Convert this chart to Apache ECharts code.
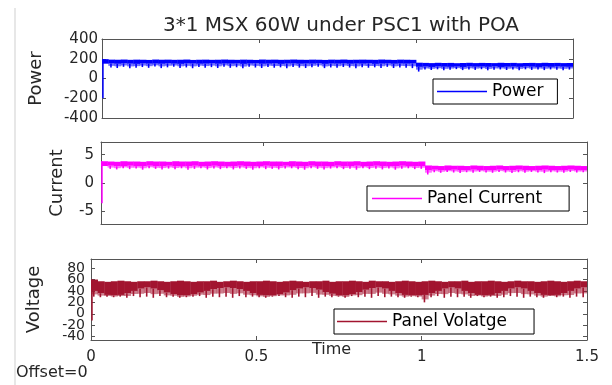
<!DOCTYPE html>
<html>
<head>
<meta charset="utf-8">
<script src="https://cdn.jsdelivr.net/npm/echarts@6/dist/echarts.min.js"></script>
<style>
  html, body { margin: 0; padding: 0; background: #fff; }
  #chart { width: 612px; height: 385px; }
</style>
</head>
<body>
<div id="chart"></div>
<script>
// time grid (s)
const time = [
  0, 0.02, 0.04, 0.06, 0.08, 0.1, 0.12, 0.14, 0.16, 0.18,
  0.2, 0.22, 0.24, 0.26, 0.28, 0.3, 0.32, 0.34, 0.36, 0.38,
  0.4, 0.42, 0.44, 0.46, 0.48, 0.5, 0.52, 0.54, 0.56, 0.58,
  0.6, 0.62, 0.64, 0.66, 0.68, 0.7, 0.72, 0.74, 0.76, 0.78,
  0.8, 0.82, 0.84, 0.86, 0.88, 0.9, 0.92, 0.94, 0.96, 0.98,
  1, 1.02, 1.04, 1.06, 1.08, 1.1, 1.12, 1.14, 1.16, 1.18,
  1.2, 1.22, 1.24, 1.26, 1.28, 1.3, 1.32, 1.34, 1.36, 1.38,
  1.4, 1.42, 1.44, 1.46, 1.48, 1.5
];

// power: top of band, bottom of solid band, bottom of ripple
const powerHi = [
  196, 191, 190, 192, 189, 191, 190, 188, 192, 190,
  191, 189, 190, 192, 188, 190, 191, 189, 190, 192,
  190, 189, 191, 190, 188, 192, 190, 191, 189, 190,
  192, 190, 189, 191, 190, 188, 191, 190, 192, 189,
  190, 191, 190, 189, 192, 190, 188, 191, 190, 189,
  160, 158, 156, 159, 157, 158, 155, 157, 159, 156,
  158, 157, 156, 159, 157, 158, 155, 157, 158, 156,
  159, 157, 158, 156, 157, 158
];
const powerLo = [
  150, 152, 149, 153, 150, 148, 152, 150, 151, 149,
  153, 150, 148, 152, 151, 149, 150, 153, 149, 151,
  150, 152, 148, 151, 153, 149, 150, 152, 148, 151,
  152, 149, 151, 150, 153, 148, 151, 150, 152, 149,
  151, 150, 153, 148, 150, 152, 149, 151, 150, 152,
  118, 120, 117, 121, 119, 118, 120, 117, 121, 119,
  120, 118, 121, 117, 119, 120, 118, 121, 119, 117,
  120, 118, 121, 119, 118, 120
];
const powerDip = [
  150, 112, 106, 118, 104, 110, 116, 108, 121, 105,
  113, 119, 107, 112, 104, 117, 110, 115, 106, 120,
  108, 114, 103, 118, 111, 106, 116, 109, 113, 104,
  117, 110, 106, 114, 119, 105, 112, 108, 116, 111,
  104, 115, 109, 113, 107, 118, 106, 112, 110, 105,
  70, 90, 86, 93, 84, 89, 95, 85, 91, 87,
  94, 83, 89, 92, 86, 90, 84, 93, 87, 91,
  85, 92, 88, 84, 90, 87
];

const currentHi = [
  3.85, 3.8, 3.75, 3.85, 3.8, 3.8, 3.75, 3.85, 3.8, 3.8,
  3.75, 3.85, 3.8, 3.8, 3.85, 3.75, 3.8, 3.85, 3.8, 3.75,
  3.8, 3.85, 3.8, 3.75, 3.8, 3.85, 3.8, 3.8, 3.75, 3.85,
  3.8, 3.75, 3.85, 3.8, 3.8, 3.75, 3.85, 3.8, 3.8, 3.85,
  3.75, 3.8, 3.85, 3.8, 3.75, 3.8, 3.85, 3.8, 3.75, 3.8,
  3.1, 3.05, 3.0, 3.1, 3.05, 3.05, 3.0, 3.1, 3.05, 3.0,
  3.05, 3.1, 3.0, 3.05, 3.1, 3.05, 3.0, 3.05, 3.1, 3.05,
  3.0, 3.05, 3.1, 3.05, 3.0, 3.1
];
const currentLo = [
  3.0, 3.05, 2.95, 3.0, 3.05, 2.95, 3.0, 3.05, 2.95, 3.0,
  3.05, 2.95, 3.0, 3.0, 3.05, 2.95, 3.0, 3.05, 3.0, 2.95,
  3.0, 3.05, 2.95, 3.0, 3.0, 3.05, 2.95, 3.0, 3.05, 3.0,
  2.95, 3.0, 3.05, 3.0, 2.95, 3.0, 3.05, 2.95, 3.0, 3.05,
  3.0, 2.95, 3.05, 3.0, 3.0, 2.95, 3.05, 3.0, 2.95, 3.0,
  2.3, 2.35, 2.25, 2.3, 2.35, 2.3, 2.25, 2.35, 2.3, 2.25,
  2.3, 2.35, 2.3, 2.25, 2.35, 2.3, 2.3, 2.25, 2.35, 2.3,
  2.25, 2.3, 2.35, 2.3, 2.25, 2.3
];
const currentDip = [
  3.0, 2.5, 2.4, 2.6, 2.45, 2.55, 2.35, 2.6, 2.5, 2.4,
  2.55, 2.45, 2.6, 2.35, 2.5, 2.6, 2.4, 2.55, 2.45, 2.6,
  2.4, 2.55, 2.5, 2.35, 2.6, 2.45, 2.5, 2.4, 2.55, 2.6,
  2.45, 2.35, 2.6, 2.5, 2.4, 2.55, 2.6, 2.45, 2.5, 2.35,
  2.6, 2.45, 2.5, 2.4, 2.55, 2.35, 2.5, 2.6, 2.45, 2.5,
  1.5, 1.9, 1.8, 1.95, 1.85, 1.75, 1.9, 1.8, 1.95, 1.85,
  1.8, 1.95, 1.85, 1.75, 1.9, 1.8, 1.95, 1.85, 1.75, 1.9,
  1.85, 1.8, 1.95, 1.85, 1.9, 1.8
];

const voltageHi = [
  60, 57, 56, 57, 58, 57, 56, 57, 57, 58,
  57, 56, 57, 58, 57, 56, 57, 57, 58, 56,
  57, 58, 57, 56, 57, 57, 58, 57, 56, 57,
  58, 57, 56, 57, 57, 58, 56, 57, 57, 58,
  57, 56, 58, 57, 57, 56, 57, 58, 57, 56,
  57, 58, 57, 56, 57, 57, 58, 56, 57, 57,
  58, 57, 56, 57, 58, 57, 57, 56, 57, 58,
  57, 56, 57, 58, 57, 57
];
const voltageLo = [
  40, 36, 33, 32, 33, 36, 40, 44, 46, 44,
  41, 37, 34, 32, 32, 34, 37, 40, 43, 45,
  46, 45, 43, 40, 36, 33, 32, 32, 34, 37,
  41, 44, 46, 45, 42, 38, 35, 32, 32, 34,
  38, 42, 45, 46, 44, 40, 36, 33, 32, 32,
  33, 36, 40, 44, 46, 44, 40, 36, 33, 32,
  33, 36, 40, 44, 46, 44, 40, 36, 33, 32,
  33, 36, 40, 44, 46, 45
];
const voltageDip = [
  30, 29, 30, 29, 30, 28, 31, 29, 30, 28,
  31, 29, 30, 28, 29, 30, 31, 28, 30, 29,
  30, 28, 31, 29, 30, 29, 28, 30, 31, 29,
  28, 30, 29, 31, 28, 30, 29, 30, 28, 31,
  29, 30, 28, 31, 29, 30, 29, 28, 30, 29,
  20, 29, 31, 28, 30, 29, 30, 28, 31, 29,
  30, 28, 29, 31, 30, 28, 30, 29, 28, 31,
  29, 30, 28, 30, 29, 30
];

// start-up transient at t ~ 0
const startTime = [0.003, 0.003];
const powerStart = [-200, 195];
const currentStart = [-3.6, 3.8];
const voltageStart = [-12, 60];

const powerTicks = [-400, -200, 0, 200, 400];
const currentTicks = [-5, 0, 5];
const voltageTicks = [-40, -20, 0, 20, 40, 60, 80];
// voltage labels are packed tightly, so they are split over two axes
const voltageLabelsA = [-40, 0, 40, 80];
const voltageLabelsB = [-20, 20, 60];

const FONT = 'DejaVu Sans';
const AXIS = '#555';
const TXT = '#262626';

const chart = echarts.init(document.getElementById('chart'));

function rows(hi, lo, dip) {
  return time.map((t, i) => [t, hi[i], lo[i], dip[i]]);
}

// one slice of the ripple band: solid part, lighter ripple part and a spike line
function bandRender(params, api) {
  const i = params.dataIndex;
  if (i >= time.length - 1) return null;
  const color = api.visual('color');
  const p0 = api.coord([api.value(0), api.value(1)]);
  const pLo = api.coord([api.value(0), api.value(2)]);
  const pDip = api.coord([api.value(0), api.value(3)]);
  const x1 = api.coord([time[i + 1], 0])[0];
  const w = x1 - p0[0];
  return {
    type: 'group',
    children: [
      { type: 'rect', shape: { x: p0[0], y: p0[1], width: w + 0.4, height: pLo[1] - p0[1] }, style: { fill: color } },
      { type: 'rect', shape: { x: p0[0], y: pLo[1], width: w + 0.4, height: (pDip[1] - pLo[1]) * 0.6 }, style: { fill: color, opacity: 0.55 } },
      { type: 'rect', shape: { x: p0[0] + w * 0.3, y: pLo[1], width: 1.6, height: pDip[1] - pLo[1] }, style: { fill: color } }
    ]
  };
}

const grids = [
  { left: 102, right: 39, top: 39, height: 79 },
  { left: 101, right: 25, top: 142, height: 82 },
  { left: 91, right: 25, top: 259, height: 81 }
];

const xAxes = [];
const yAxes = [];
const yRanges = [[-400, 400], [-7.25, 7.25], [-46, 96]];
const yTicks = [powerTicks, currentTicks, voltageTicks];
const yLabels = [powerTicks, currentTicks, voltageLabelsA];
const yNames = ['Power', 'Current', 'Voltage'];
const yGaps = [57, 35, 48];
const yMargins = [4, 7, 6];
const yFont = [15, 15, 14];

grids.forEach((g, gi) => {
  ['bottom', 'top'].forEach(pos => {
    const main = pos === 'bottom';
    xAxes.push({
      type: 'value', gridIndex: gi, position: pos, min: 0, max: 1.5, interval: 0.5,
      axisLine: { onZero: false, lineStyle: { color: AXIS, width: 1 } },
      axisTick: { inside: true, length: 4, lineStyle: { color: AXIS } },
      axisLabel: {
        show: main && gi === 2, margin: 10, fontFamily: FONT, fontSize: 15, color: TXT,
        showMinLabel: true, showMaxLabel: true
      },
      splitLine: { show: false }
    });
  });
  ['left', 'right'].forEach(pos => {
    const main = pos === 'left';
    yAxes.push({
      type: 'value', gridIndex: gi, position: pos,
      min: yRanges[gi][0], max: yRanges[gi][1],
      axisLine: { onZero: false, lineStyle: { color: AXIS, width: 1 } },
      axisTick: { inside: true, length: 4, lineStyle: { color: AXIS }, customValues: yTicks[gi] },
      axisLabel: {
        show: main, margin: yMargins[gi], fontFamily: FONT, fontSize: yFont[gi], color: TXT,
        customValues: yLabels[gi], showMinLabel: true, showMaxLabel: true
      },
      splitLine: { show: false },
      name: main ? yNames[gi] : '',
      nameLocation: 'middle', nameGap: yGaps[gi], nameRotate: 90, nameMoveOverlap: false,
      nameTextStyle: { fontFamily: FONT, fontSize: 18, color: TXT }
    });
  });
});

// second label-only axis for the voltage panel
yAxes.push({
  type: 'value', gridIndex: 2, position: 'left', offset: 0,
  min: yRanges[2][0], max: yRanges[2][1],
  axisLine: { show: false }, axisTick: { show: false }, splitLine: { show: false },
  axisLabel: {
    margin: yMargins[2], fontFamily: FONT, fontSize: yFont[2], color: TXT,
    customValues: voltageLabelsB
  }
});

const panels = [
  { name: 'Power', color: '#0000ff', data: rows(powerHi, powerLo, powerDip), start: powerStart },
  { name: 'Panel Current', color: '#ff00ff', data: rows(currentHi, currentLo, currentDip), start: currentStart },
  { name: 'Panel Volatge', color: '#a2142f', data: rows(voltageHi, voltageLo, voltageDip), start: voltageStart }
];

const series = [];
panels.forEach((p, gi) => {
  series.push({
    name: p.name, type: 'custom', xAxisIndex: gi * 2, yAxisIndex: gi * 2,
    renderItem: bandRender, itemStyle: { color: p.color, borderWidth: 0 },
    encode: { x: 0, y: [1, 2, 3] }, data: p.data, clip: true
  });
  series.push({
    name: p.name + ' start', type: 'line', xAxisIndex: gi * 2, yAxisIndex: gi * 2,
    showSymbol: false, symbol: 'none', lineStyle: { color: p.color, width: 1.5 },
    data: startTime.map((t, i) => [t, p.start[i]])
  });
});

const legendPos = [
  { left: 433, top: 79 },
  { left: 367, top: 186 },
  { left: 334, top: 309 }
];
const legendPad = [[4, 14, 4, 4], [4, 27, 4, 5], [4, 27, 4, 3]];

const legends = panels.map((p, gi) => ({
  data: [{ name: p.name, icon: 'rect', itemStyle: { color: p.color, borderWidth: 0, borderColor: p.color } }],
  left: legendPos[gi].left, top: legendPos[gi].top,
  orient: 'horizontal',
  icon: 'rect', itemWidth: 50, itemHeight: 1.5,
  itemStyle: { color: p.color, borderWidth: 0, borderColor: p.color },
  padding: legendPad[gi],
  borderColor: '#000', borderWidth: 1, backgroundColor: '#fff',
  textStyle: { fontFamily: FONT, fontSize: 17, color: '#000' },
  selectedMode: false
}));

chart.setOption({
  animation: false,
  backgroundColor: '#fff',
  title: {
    text: '3*1 MSX 60W under PSC1 with POA',
    left: 336, top: 11, textAlign: 'center',
    textStyle: { fontFamily: FONT, fontSize: 20, fontWeight: 'normal', color: TXT }
  },
  grid: grids,
  xAxis: xAxes,
  yAxis: yAxes,
  legend: legends,
  series: series,
  graphic: [
    { type: 'line', shape: { x1: 15, y1: 8, x2: 15, y2: 385 }, style: { stroke: '#cfcfcf', lineWidth: 1 } },
    { type: 'text', left: 312, top: 342, style: { text: 'Time', fontFamily: FONT, fontSize: 16, fill: TXT } },
    { type: 'text', left: 16, top: 365, style: { text: 'Offset=0', fontFamily: FONT, fontSize: 16, fill: TXT } }
  ]
});
</script>
</body>
</html>
